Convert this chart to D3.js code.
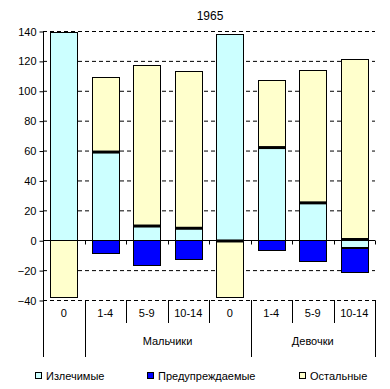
<!DOCTYPE html>
<html>
<head>
<meta charset="utf-8">
<script src="https://cdn.jsdelivr.net/npm/d3@7"></script>
<style>
  body { margin: 0; background: #fff; }
  text { font-family: Arial, "Liberation Sans", sans-serif; fill: #000; }
</style>
</head>
<body>
<div id="chart"></div>
<script>
const title = "1965";
const categories = ["0", "1-4", "5-9", "10-14", "0", "1-4", "5-9", "10-14"];
const groups = [
    {label: "", from: 0, to: 1},
    {label: "Мальчики", from: 1, to: 5},
    {label: "Девочки", from: 5, to: 8}
];
const seriesNames = ["Излечимые", "Предупреждаемые", "Остальные"];
const curable =    [139, 59, 9.5, 8, 138, 62, 25, -5];
const preventable = [0, -9, -17, -13, 0, -7, -14, -16];
const others =     [-38, 50, 107.5, 105, -38, 45, 89, 121];
// thick black marks drawn on the bars
const marks = [null, 59, 9.5, 8, -0.5, 62, 25, 0.5];
const yTicks = [-40, -20, 0, 20, 40, 60, 80, 100, 120, 140];
const colors = ["#ccffff", "#0000ff", "#ffffcc"];

const W = 390, H = 389;
const plot = {left: 43, right: 375, top: 31, bottom: 300};

const svg = d3.select("#chart").append("svg")
    .attr("width", W)
    .attr("height", H);

const xScale = d3.scaleBand()
    .domain(d3.range(categories.length))
    .range([plot.left, plot.right])
    .paddingInner(0.35)
    .paddingOuter(0.175);

const yScale = d3.scaleLinear()
    .domain([-40, 140])
    .range([plot.bottom, plot.top]);

// grid
svg.append("g").selectAll("line")
    .data(yTicks.filter(t => t !== 0))
    .join("line")
    .attr("x1", plot.left).attr("x2", plot.right)
    .attr("y1", d => yScale(d) + 0.5).attr("y2", d => yScale(d) + 0.5)
    .attr("stroke", "#000")
    .attr("stroke-dasharray", "4,3");

// stacked bars
const table = categories.map((c, i) => ({
    i: i, s0: curable[i], s1: preventable[i], s2: others[i]
}));
const stacked = d3.stack()
    .keys(["s0", "s1", "s2"])
    .offset(d3.stackOffsetDiverging)(table);

svg.append("g").selectAll("g")
    .data(stacked)
    .join("g")
    .attr("fill", (d, k) => colors[k])
    .selectAll("rect")
    .data(d => d.filter(p => p[1] - p[0] !== 0))
    .join("rect")
    .attr("x", d => Math.round(xScale(d.data.i)) + 0.5)
    .attr("y", d => Math.round(yScale(Math.max(d[0], d[1]))) + 0.5)
    .attr("width", Math.round(xScale.bandwidth()))
    .attr("height", d => Math.round(Math.abs(yScale(d[0]) - yScale(d[1]))))
    .attr("stroke", "#000")
    .attr("stroke-width", 1);

// thick marks
svg.append("g").selectAll("line")
    .data(marks.map((v, i) => ({v, i})).filter(d => d.v !== null))
    .join("line")
    .attr("x1", d => Math.round(xScale(d.i)) + 0.5)
    .attr("x2", d => Math.round(xScale(d.i)) + 0.5 + Math.round(xScale.bandwidth()))
    .attr("y1", d => yScale(d.v)).attr("y2", d => yScale(d.v))
    .attr("stroke", "#000")
    .attr("stroke-width", 3);

// y axis
const yAxis = svg.append("g")
    .attr("transform", "translate(" + (plot.left + 0.5) + ",0.5)")
    .call(d3.axisLeft(yScale).tickValues(yTicks).tickSize(4).tickPadding(3).tickFormat(d3.format("d")));
yAxis.select(".domain").attr("d", "M0," + plot.top + "V" + plot.bottom);
yAxis.selectAll("text").attr("font-size", 11).attr("font-family", "Arial, 'Liberation Sans', sans-serif");

// zero line with ticks
const y0 = Math.round(yScale(0)) + 0.5;
svg.append("line")
    .attr("x1", plot.left).attr("x2", plot.right)
    .attr("y1", y0).attr("y2", y0)
    .attr("stroke", "#000");
const bounds = d3.range(categories.length + 1).map(i => plot.left + i * xScale.step());
svg.append("g").selectAll("line")
    .data(bounds.slice(1))
    .join("line")
    .attr("x1", d => Math.round(d) + 0.5).attr("x2", d => Math.round(d) + 0.5)
    .attr("y1", y0).attr("y2", y0 + 4)
    .attr("stroke", "#000");

// category axis (two levels)
const groupEdges = new Set(groups.flatMap(g => [g.from, g.to]));
svg.append("g").selectAll("line")
    .data(bounds.map((x, i) => ({x, i})))
    .join("line")
    .attr("x1", d => Math.round(d.x) + 0.5).attr("x2", d => Math.round(d.x) + 0.5)
    .attr("y1", plot.bottom)
    .attr("y2", d => groupEdges.has(d.i) ? 357 : 323)
    .attr("stroke", "#000");

svg.append("g").selectAll("text")
    .data(categories)
    .join("text")
    .attr("x", (d, i) => xScale(i) + xScale.bandwidth() / 2)
    .attr("y", 317)
    .attr("text-anchor", "middle")
    .attr("font-size", 11)
    .text(d => d);

svg.append("g").selectAll("text")
    .data(groups)
    .join("text")
    .attr("x", d => (bounds[d.from] + bounds[d.to]) / 2)
    .attr("y", 345)
    .attr("text-anchor", "middle")
    .attr("font-size", 11)
    .text(d => d.label);

// title
svg.append("text")
    .attr("x", 210).attr("y", 20)
    .attr("text-anchor", "middle")
    .attr("font-size", 12)
    .text(title);

// legend
const legendX = [35, 147, 299];
const leg = svg.append("g").selectAll("g")
    .data(seriesNames)
    .join("g")
    .attr("transform", (d, i) => "translate(" + legendX[i] + ",372)");
leg.append("rect")
    .attr("x", 0.5).attr("y", 0.5)
    .attr("width", 6).attr("height", 6)
    .attr("fill", (d, i) => colors[i])
    .attr("stroke", "#000");
leg.append("text")
    .attr("x", 11).attr("y", 8)
    .attr("font-size", 11)
    .text(d => d);
</script>
</body>
</html>
